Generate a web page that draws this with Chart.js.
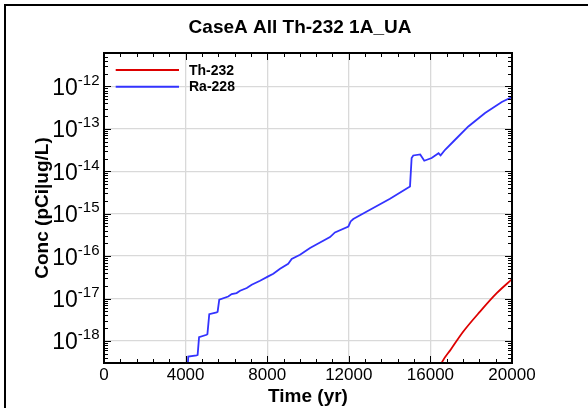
<!DOCTYPE html>
<html>
<head>
<meta charset="utf-8">
<script src="https://cdn.jsdelivr.net/npm/chart.js@4.4.1/dist/chart.umd.min.js"></script>
<style>
  html, body { margin: 0; padding: 0; background: #fff; }
</style>
</head>
<body>
<canvas id="myChart" width="588" height="408"></canvas>
<script>
const chartTitle = "CaseA All Th-232 1A_UA";
const xTitle = "Time (yr)";
const yTitle = "Conc (pCi|ug/L)";
const seriesNames = ["Th-232", "Ra-228"];
const seriesColors = ["#dd0000", "#3333ff"];

const xTicks = [0, 4000, 8000, 12000, 16000, 20000];
const yTickExps = [-18, -17, -16, -15, -14, -13, -12];
const yMin = 3.03e-19;
const yMax = 6.14e-12;

// Th-232
const thTime = [16200, 16584, 17000, 17613, 18432, 19250, 20000];
const thConc = [1.2e-19, 3.27e-19, 6.3e-19, 1.67e-18, 4.93e-18, 1.34e-17, 2.87e-17];

// Ra-228
const raTime = [4080, 4130, 4540, 4590, 4660, 5030, 5070, 5160, 5520, 5570, 5650,
  6090, 6260, 6500, 6670, 7000, 7240, 7650, 8050, 8300, 8630, 9030, 9200, 9610,
  10100, 10590, 11080, 11320, 11980, 12090, 12220, 13040, 14020, 15000, 15080,
  15160, 15500, 15700, 16060, 16400, 16500, 16720, 17210, 17860, 18680, 19500, 20000];
const raConc = [1.5e-19, 4.3e-19, 4.6e-19, 4.7e-19, 1.23e-18, 1.4e-18, 1.45e-18, 4.3e-18, 4.7e-18, 4.9e-18, 9.4e-18,
  1.12e-17, 1.28e-17, 1.35e-17, 1.53e-17, 1.77e-17, 2.12e-17, 2.63e-17, 3.33e-17, 3.85e-17, 5.06e-17, 6.63e-17, 8.55e-17, 1.08e-16,
  1.55e-16, 2.1e-16, 2.82e-16, 3.62e-16, 5.0e-16, 6.57e-16, 7.5e-16, 1.24e-15, 2.25e-15, 4.4e-15, 2.05e-14,
  2.36e-14, 2.5e-14, 1.77e-14, 2.05e-14, 2.66e-14, 2.38e-14, 3.22e-14, 5.54e-14, 1.14e-13, 2.36e-13, 4.29e-13, 5.6e-13];

const FONT = "'Liberation Sans', Arial, sans-serif";

// frame, inward ticks, labels and legend
const decorations = {
  id: "decorations",
  afterDraw(chart) {
    const ctx = chart.ctx;
    const a = chart.chartArea;
    const xs = chart.scales.x;
    const ys = chart.scales.y;
    ctx.save();

    // outer frame
    ctx.strokeStyle = "#000";
    ctx.lineWidth = 2;
    ctx.beginPath();
    ctx.moveTo(5, 408);
    ctx.lineTo(5, 5);
    ctx.lineTo(588, 5);
    ctx.stroke();

    // x ticks, top and bottom
    ctx.lineWidth = 1;
    ctx.beginPath();
    for (let v = 0; v <= 20000; v += 800) {
      const px = Math.round(xs.getPixelForValue(v)) + 0.5;
      const len = v % 4000 === 0 ? 7 : 4;
      ctx.moveTo(px, a.bottom);
      ctx.lineTo(px, a.bottom - len);
      ctx.moveTo(px, a.top);
      ctx.lineTo(px, a.top + len);
    }
    // y ticks, left and right
    for (let e = -19; e <= -12; e++) {
      for (let m = 1; m <= 9; m++) {
        const v = m * Math.pow(10, e);
        if (v < yMin || v > yMax) continue;
        const py = Math.round(ys.getPixelForValue(v)) + 0.5;
        const len = m === 1 ? 7 : 4;
        ctx.moveTo(a.left, py);
        ctx.lineTo(a.left + len, py);
        ctx.moveTo(a.right, py);
        ctx.lineTo(a.right - len, py);
      }
    }
    ctx.stroke();

    // plot border
    ctx.lineWidth = 2;
    ctx.strokeRect(a.left, a.top, a.right - a.left, a.bottom - a.top);

    // x tick labels
    ctx.fillStyle = "#000";
    ctx.font = "17px " + FONT;
    ctx.textAlign = "center";
    ctx.textBaseline = "alphabetic";
    xTicks.forEach(v => {
      ctx.fillText(String(v), xs.getPixelForValue(v), 380);
    });

    // y tick labels 10^n
    ctx.textAlign = "left";
    yTickExps.forEach(e => {
      const py = ys.getPixelForValue(Math.pow(10, e));
      const sup = String(e);
      ctx.font = "15px " + FONT;
      const w2 = ctx.measureText(sup).width;
      ctx.font = "23px " + FONT;
      const w1 = ctx.measureText("10").width;
      const right = a.left - 4.5;
      ctx.fillText("10", right - w2 - w1, py + 8.5);
      ctx.font = "15px " + FONT;
      ctx.fillText(sup, right - w2, py - 1.5);
    });

    // titles
    ctx.font = "bold 19px " + FONT;
    ctx.textAlign = "center";
    ctx.fillText(chartTitle, 300, 32.5);
    ctx.fillText(xTitle, (a.left + a.right) / 2, 401.5);
    ctx.save();
    ctx.translate(47.5, (a.top + a.bottom) / 2);
    ctx.rotate(-Math.PI / 2);
    ctx.fillText(yTitle, 0, 0);
    ctx.restore();

    // legend
    ctx.font = "bold 14px " + FONT;
    ctx.textAlign = "left";
    chart.data.datasets.forEach((ds, i) => {
      const ly = 70 + i * 16.7;
      ctx.strokeStyle = ds.borderColor;
      ctx.lineWidth = 2;
      ctx.beginPath();
      ctx.moveTo(115.7, ly);
      ctx.lineTo(179, ly);
      ctx.stroke();
      ctx.fillStyle = "#000";
      ctx.fillText(ds.label, 189, ly + 4.5);
    });

    ctx.restore();
  }
};

new Chart(document.getElementById("myChart"), {
  type: "line",
  data: {
    datasets: [
      {
        label: seriesNames[0],
        data: thTime.map((t, i) => ({ x: t, y: thConc[i] })),
        borderColor: seriesColors[0],
        borderWidth: 1.8,
        pointRadius: 0,
        fill: false,
        cubicInterpolationMode: "monotone",
      },
      {
        label: seriesNames[1],
        data: raTime.map((t, i) => ({ x: t, y: raConc[i] })),
        borderColor: seriesColors[1],
        borderWidth: 1.8,
        pointRadius: 0,
        fill: false,
        tension: 0,
      },
    ],
  },
  options: {
    responsive: false,
    animation: false,
    devicePixelRatio: 1,
    layout: { padding: { left: 104, top: 53, right: 76, bottom: 45 } },
    plugins: {
      legend: { display: false },
      title: { display: false },
      tooltip: { enabled: false },
    },
    scales: {
      x: {
        type: "linear",
        min: 0,
        max: 20000,
        afterBuildTicks: s => { s.ticks = xTicks.map(v => ({ value: v })); },
        ticks: { display: false },
        grid: { color: "#d9d9d9", lineWidth: 1.3, drawTicks: false },
        border: { display: false },
      },
      y: {
        type: "logarithmic",
        min: yMin,
        max: yMax,
        afterBuildTicks: s => { s.ticks = yTickExps.map(e => ({ value: Math.pow(10, e) })); },
        ticks: { display: false },
        grid: { color: "#d9d9d9", lineWidth: 1.3, drawTicks: false },
        border: { display: false },
      },
    },
  },
  plugins: [decorations],
});
</script>
</body>
</html>
